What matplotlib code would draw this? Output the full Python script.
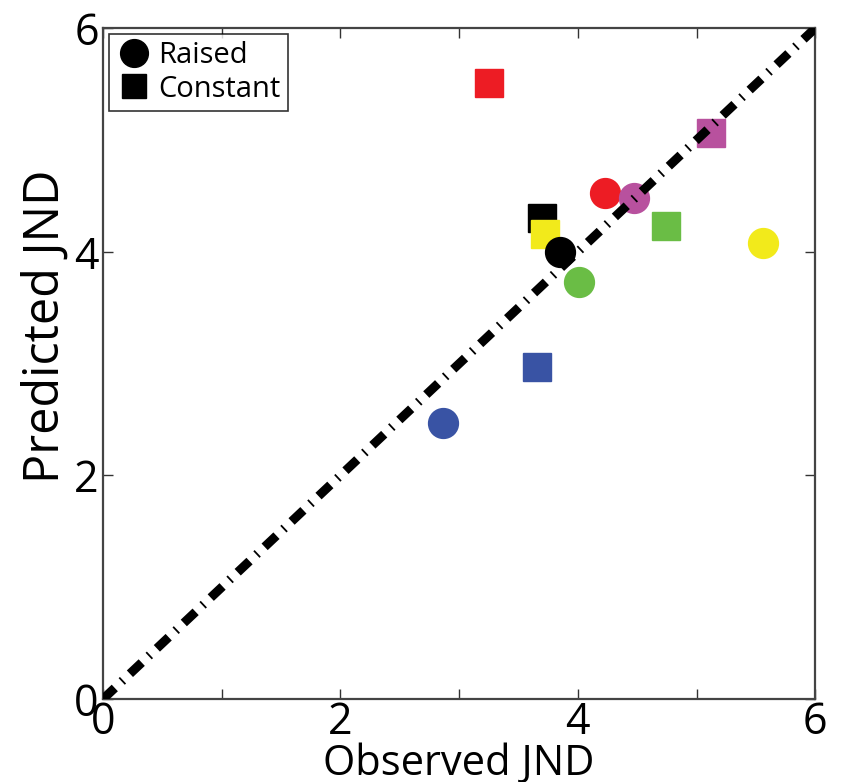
import matplotlib
matplotlib.use("Agg")
import matplotlib.pyplot as plt
from matplotlib.lines import Line2D

colors = ["#3953A4", "#000000", "#6ABD45", "#ED1C24", "#B8519E", "#F2EA1B"]
raised_obs = [2.86, 3.85, 4.01, 4.23, 4.47, 5.56]
raised_pred = [2.47, 4.00, 3.73, 4.53, 4.48, 4.08]
const_obs = [3.66, 3.70, 4.74, 3.25, 5.12, 3.72]
const_pred = [2.97, 4.30, 4.23, 5.51, 5.06, 4.16]
diag = [0, 6]
xticks = [0, 1, 2, 3, 4, 5, 6]
xticklabels = ["0", "", "2", "", "4", "", "6"]
yticks = [0, 2, 4, 6]

plt.rcParams['font.family'] = ['Open Sans', 'DejaVu Sans']

fig = plt.figure(figsize=(8.44, 7.82), dpi=100)
ax = fig.add_axes([0.122, 0.106, 0.844, 0.858])

for xo, yp, c in zip(const_obs, const_pred, colors):
    ax.plot([xo], [yp], marker='s', ms=19.5, color=c, mec=c, ls='none', zorder=2)
for xo, yp, c in zip(raised_obs, raised_pred, colors):
    ax.plot([xo], [yp], marker='o', ms=21.5, color=c, mec=c, ls='none', zorder=3)

ax.plot(diag, diag, color='black', lw=6.5, ls=(0, (1.8, 1.05, 0.2, 1.05)),
        solid_capstyle='butt', dash_capstyle='butt', zorder=4)

ax.set_xlim(0, 6)
ax.set_ylim(0, 6)
ax.set_xticks(xticks)
ax.set_xticklabels(xticklabels)
ax.set_yticks(yticks)
ax.tick_params(direction='in', top=True, right=True, length=7, width=1,
               labelsize=31, color='#333333', pad=3)
ax.tick_params(axis='x', pad=1)
for s in ax.spines.values():
    s.set_linewidth(1.6)
    s.set_color('#444444')

ax.set_xlabel("Observed JND", fontsize=30)
ax.set_ylabel("Predicted JND", fontsize=35)
ax.xaxis.set_label_coords(0.5, -0.065)
ax.yaxis.set_label_coords(-0.045, 0.555)

handles = [Line2D([], [], marker='o', color='black', ls='none', ms=20),
           Line2D([], [], marker='s', color='black', ls='none', ms=17)]
leg = ax.legend(handles, ["Raised", "Constant"], loc='upper left', fontsize=21,
                frameon=True, fancybox=False, handletextpad=0.25, borderpad=0.25,
                labelspacing=0.15, handlelength=1.2, borderaxespad=0.2)
leg.get_frame().set_edgecolor('black')
leg.get_frame().set_linewidth(1.2)

fig.savefig("out.png", dpi=100)
